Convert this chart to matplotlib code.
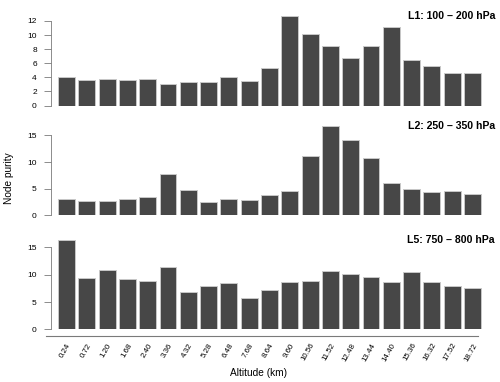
import numpy as np
import matplotlib
matplotlib.use("Agg")
import matplotlib.pyplot as plt

plt.rcParams["font.family"] = ["Liberation Sans", "DejaVu Sans"]

altitudes = ["0.24", "0.72", "1.20", "1.68", "2.40", "3.36", "4.32", "5.28", "6.48", "7.68",
             "8.64", "9.60", "10.56", "11.52", "12.48", "13.44", "14.40", "15.36", "16.32",
             "17.52", "18.72"]

l1_purity = [4.1, 3.65, 3.7, 3.55, 3.7, 3.1, 3.3, 3.3, 4.05, 3.5,
             5.35, 12.7, 10.2, 8.4, 6.8, 8.4, 11.15, 6.4, 5.6, 4.55, 4.55]
l2_purity = [3.0, 2.75, 2.6, 3.0, 3.4, 7.8, 4.7, 2.55, 3.0, 2.8,
             3.9, 4.55, 11.05, 16.8, 14.05, 10.8, 6.05, 4.95, 4.3, 4.55, 4.0]
l5_purity = [16.4, 9.45, 10.95, 9.3, 8.9, 11.45, 6.8, 8.0, 8.55, 5.7,
             7.2, 8.7, 8.9, 10.6, 10.1, 9.6, 8.65, 10.5, 8.7, 7.95, 7.6]

panel_titles = ["L1: 100 \u2013 200 hPa", "L2: 250 \u2013 350 hPa", "L5: 750 \u2013 800 hPa"]
panel_values = [l1_purity, l2_purity, l5_purity]
panel_ticks = [[0, 2, 4, 6, 8, 10, 12], [0, 5, 10, 15], [0, 5, 10, 15]]

W, H = 500, 382
fig = plt.figure(figsize=(W / 100, H / 100), dpi=100)

# R-style barplot positions: width 1, space 0.2
x = np.arange(len(altitudes)) * 1.2 + 0.7
bar_color = "#474747"
axis_color = "#7a7a7a"

left_px, right_px = 50.7, 488.3
bottoms_px = [105.5, 215.3, 329.3]
height_px = 89.5

axes = []
for i, (vals, title, ticks) in enumerate(zip(panel_values, panel_titles, panel_ticks)):
    ax = fig.add_axes([left_px / W, 1 - bottoms_px[i] / H,
                       (right_px - left_px) / W, height_px / H])
    ax.bar(x, vals, width=1.0, color=bar_color, edgecolor="#c8c8c8", linewidth=0.7)
    ax.set_xlim(-0.23, 25.63)
    ax.set_ylim(0, max(vals))
    ax.set_yticks(ticks)
    ax.set_yticklabels([str(t) for t in ticks], fontsize=6)
    ax.tick_params(axis="y", length=5, width=0.6, color=axis_color, pad=5)
    for s in ["top", "right", "bottom"]:
        ax.spines[s].set_visible(False)
    ax.spines["left"].set_bounds(0, ticks[-1])
    ax.spines["left"].set_color(axis_color)
    ax.spines["left"].set_linewidth(0.6)
    ax.set_xticks([])
    ax.text((495 - left_px) / (right_px - left_px), 1.0, title, transform=ax.transAxes,
            ha="right", va="center", fontsize=7.6, fontweight="bold")
    axes.append(ax)

ax3 = axes[-1]
ax3.spines["bottom"].set_visible(True)
ax3.spines["bottom"].set_position(("outward", 5))
ax3.spines["bottom"].set_bounds(-0.52, 25.0)
ax3.spines["bottom"].set_color(axis_color)
ax3.spines["bottom"].set_linewidth(0.8)
ax3.set_xticks(x)
ax3.set_xticklabels(altitudes, rotation=60, ha="right", rotation_mode="anchor", fontsize=5.7)
ax3.tick_params(axis="x", length=0, pad=4)

fig.text(259 / W, 1 - 372.5 / H, "Altitude (km)", ha="center", va="center", fontsize=7.3)
fig.text(9 / W, 1 - 178 / H, "Node purity", ha="center", va="center", rotation=90, fontsize=7.3)

fig.savefig("out.png", dpi=100)
